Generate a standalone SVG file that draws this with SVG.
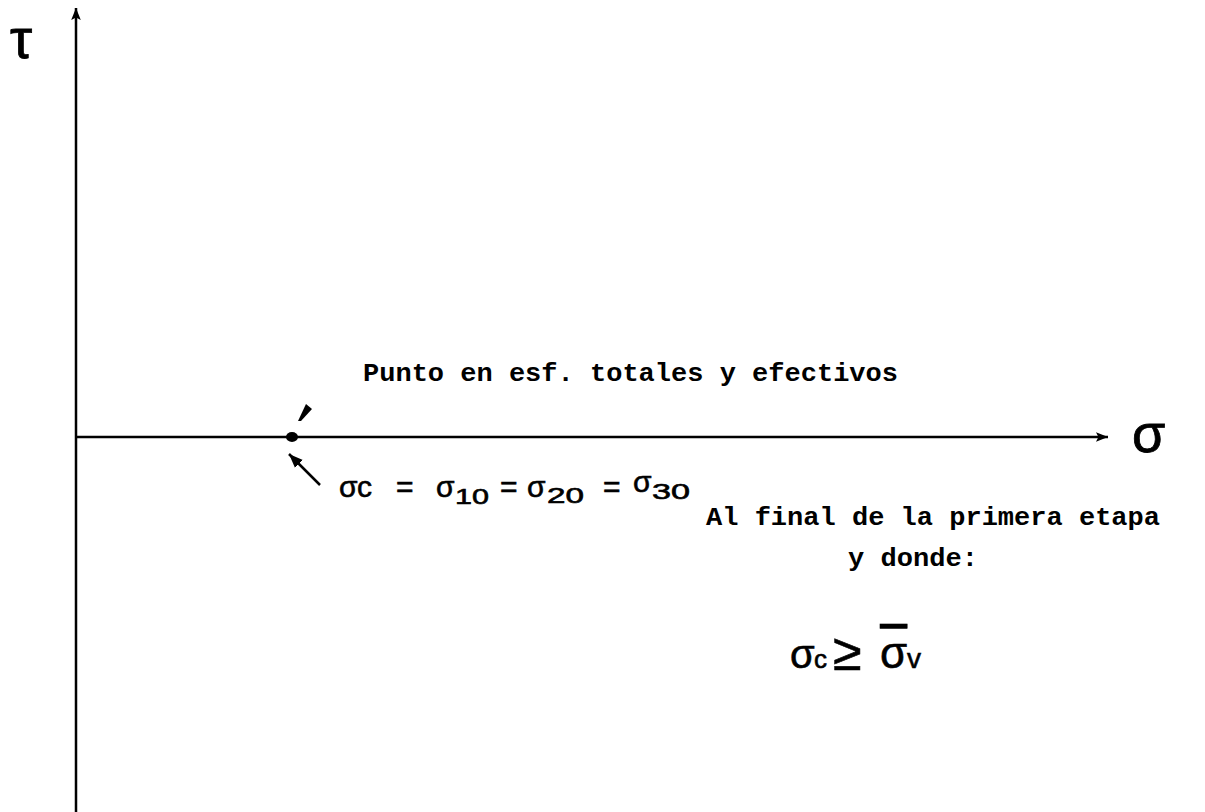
<svg xmlns="http://www.w3.org/2000/svg" width="1205" height="812" viewBox="0 0 1205 812">
<style>
.axis{stroke:#000;stroke-width:2.5;fill:none}
.lbl{font-family:"Liberation Mono","DejaVu Sans Mono",monospace;font-weight:bold;font-size:25px;fill:#000}
.hw{font-family:"Liberation Sans","DejaVu Sans",sans-serif;font-size:30px;fill:#000;stroke:#000;stroke-width:0.6}
.sub{font-size:22px}
</style>
<defs>
<marker id="ah" viewBox="0 0 10 10" refX="10" refY="5" markerWidth="14" markerHeight="14" markerUnits="userSpaceOnUse" orient="auto">
<path d="M0,1 L10,5 L0,9 Z" fill="#000"/>
</marker>
<marker id="ahBig" viewBox="0 0 10 10" refX="10" refY="5" markerWidth="28" markerHeight="12" markerUnits="userSpaceOnUse" orient="auto">
<path d="M0,1 L10,5 L0,9 L2,5 Z" fill="#000"/>
</marker>
</defs>
<rect width="1205" height="812" fill="#fff"/>
<g id="connectors">
<line class="axis" x1="76" y1="812" x2="76" y2="8" marker-end="url(#ahBig)"/>
<line class="axis" x1="76" y1="437" x2="1108" y2="437" marker-end="url(#ahBig)"/>
<line x1="320" y1="485" x2="289" y2="454" stroke="#000" stroke-width="2.5" marker-end="url(#ah)"/>
<polygon points="298,421 301,421 312,409 306,404" fill="#000"/>
</g>
<g id="tau-label"><text class="hw" x="10" y="58" style="font-size:56px;stroke-width:0.8">τ</text></g>
<g id="sigma-label"><text class="hw" x="1132" y="452" style="font-size:54px;stroke-width:0.8">σ</text></g>
<g id="point"><ellipse cx="292" cy="437" rx="6" ry="5" fill="#000"/></g>
<g id="title"><text class="lbl" x="363" y="381" textLength="535" lengthAdjust="spacingAndGlyphs">Punto en esf. totales y efectivos</text></g>
<g id="formula">
<text class="hw" x="339" y="497">σ</text><text class="hw" x="357" y="497">c</text>
<text class="hw" x="396" y="497">=</text>
<text class="hw" x="436" y="497">σ</text><text class="hw sub" x="455" y="504" textLength="34" lengthAdjust="spacingAndGlyphs">10</text>
<text class="hw" x="500" y="497">=</text>
<text class="hw" x="527" y="497">σ</text><text class="hw sub" x="547" y="503" textLength="37" lengthAdjust="spacingAndGlyphs">20</text>
<text class="hw" x="603" y="497">=</text>
<text class="hw" x="633" y="492">σ</text><text class="hw sub" x="652" y="499" textLength="38" lengthAdjust="spacingAndGlyphs">30</text>
</g>
<g id="note"><text class="lbl" x="706" y="525" textLength="454" lengthAdjust="spacingAndGlyphs">Al final de la primera etapa</text>
<text class="lbl" x="848" y="566" textLength="130" lengthAdjust="spacingAndGlyphs">y donde:</text></g>
<g id="condition">
<text class="hw" x="790" y="668" style="font-size:40px">σ</text><text class="hw" x="814" y="668" style="font-size:26px">c</text>
<text class="hw" x="833" y="670" style="font-size:52px">≥</text>
<text class="hw" x="880" y="668" style="font-size:44px" text-decoration="overline">σ</text><text class="hw" x="907" y="668" style="font-size:28px">v</text>
</g>
</svg>
